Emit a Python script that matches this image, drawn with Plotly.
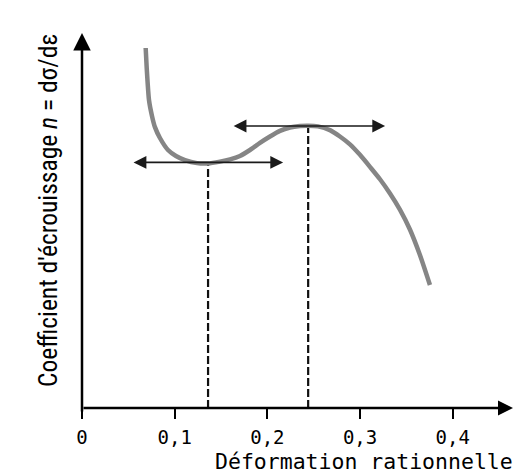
import plotly.graph_objects as go

# True strain (x) and strain-hardening coefficient n (relative units, y)
strain = [0.0687, 0.0698, 0.0723, 0.0755, 0.0787, 0.0841, 0.0928, 0.1014, 0.1111,
          0.1241, 0.1359, 0.1489, 0.1597, 0.1704, 0.1812, 0.1920, 0.2028, 0.2136,
          0.2244, 0.2352, 0.2438, 0.2546, 0.2675, 0.2783, 0.2891, 0.2999, 0.3107,
          0.3215, 0.3323, 0.3430, 0.3538, 0.3646, 0.3754]
n_coef = [0.960, 0.907, 0.821, 0.779, 0.749, 0.720, 0.688, 0.672, 0.661,
          0.653, 0.652, 0.657, 0.663, 0.672, 0.688, 0.707, 0.724, 0.739,
          0.748, 0.752, 0.753, 0.751, 0.741, 0.724, 0.703, 0.675, 0.643,
          0.610, 0.572, 0.529, 0.476, 0.408, 0.328]

# Horizontal tangents at the local minimum and maximum
min_strain, min_n = 0.136, 0.655
max_strain, max_n = 0.244, 0.752
tangent_min_x = [0.054, 0.217]
tangent_max_x = [0.162, 0.327]

tick_vals = [0, 0.1, 0.2, 0.3, 0.4]
tick_text = ["0", "0,1", "0,2", "0,3", "0,4"]

x_max = 0.465
y_max = 1.0

fig = go.Figure()

# dashed verticals
for xs, yv in [(min_strain, min_n), (max_strain, max_n)]:
    fig.add_trace(go.Scatter(x=[xs, xs], y=[0, yv], mode="lines",
                             line=dict(color="#111111", width=2.2, dash="8px,3px"),
                             hoverinfo="skip", showlegend=False))

# curve
fig.add_trace(go.Scatter(x=strain, y=n_coef, mode="lines",
                         line=dict(color="#858585", width=4.5, shape="spline", smoothing=0.6),
                         hoverinfo="skip", showlegend=False))

annotations = []
# axes with arrows
annotations.append(dict(x=0, y=y_max, ax=0, ay=-0.013, xref="x", yref="y", axref="x", ayref="y",
                        text="", showarrow=True, arrowhead=2, arrowsize=1.4, arrowwidth=2.5,
                        arrowcolor="#000000", standoff=0, startstandoff=0))
annotations.append(dict(x=x_max, y=0, ax=0, ay=0, xref="x", yref="y", axref="x", ayref="y",
                        text="", showarrow=True, arrowhead=2, arrowsize=1.2, arrowwidth=2.5,
                        arrowcolor="#000000", standoff=0, startstandoff=0))
# tangents
for tx, ty in [(tangent_min_x, min_n), (tangent_max_x, max_n)]:
    annotations.append(dict(x=tx[1], y=ty, ax=tx[0], ay=ty, xref="x", yref="y", axref="x", ayref="y",
                            text="", showarrow=True, arrowhead=2, arrowsize=1.6, arrowwidth=1.6,
                            arrowside="end+start", arrowcolor="#1a1a1a", standoff=0, startstandoff=0))
# axis titles
annotations.append(dict(x=1.0046, y=-0.143, xref="paper", yref="paper", xanchor="right", yanchor="middle",
                        text="Déformation rationnelle", showarrow=False,
                        font=dict(family="DejaVu Sans Mono", size=21.5, color="#000000")))
annotations.append(dict(x=-0.079, y=0.528, xref="paper", yref="paper", xanchor="center", yanchor="middle",
                        textangle=-90, text="Coefficient d'écrouissage <i>n</i> = dσ/dε", showarrow=False,
                        font=dict(family="Liberation Sans Narrow, Roboto Condensed, DejaVu Sans Condensed, Liberation Sans",
                                  size=25.5, color="#000000")))

# The page body has an 8px margin, so the figure is made 8px smaller and shifted.
fig.update_layout(
    width=524, height=465,
    margin=dict(l=74, r=19, t=25, b=65),
    paper_bgcolor="white", plot_bgcolor="white",
    showlegend=False,
    annotations=annotations,
    xaxis=dict(range=[0, x_max], showgrid=False, zeroline=False, showline=False,
               tickmode="array", tickvals=tick_vals, ticktext=tick_text,
               ticks="outside", ticklen=10, tickwidth=2, tickcolor="#000000",
               ticklabelstandoff=2,
               tickfont=dict(family="DejaVu Sans Mono", size=19, color="#000000"),
               fixedrange=True),
    yaxis=dict(range=[0, y_max], showgrid=False, zeroline=False, showline=False,
               showticklabels=False, ticks="", fixedrange=True),
)

fig.write_html("out.html")
